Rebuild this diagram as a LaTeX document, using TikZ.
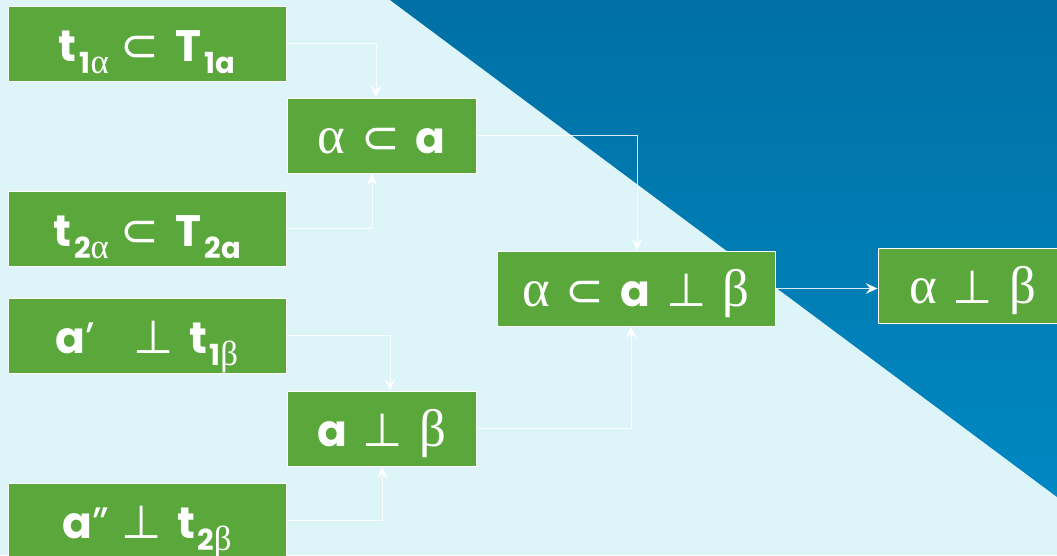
\documentclass[tikz,border=0pt]{standalone}
\usepackage{fontspec}
\setmainfont{Poppins}
\newfontfamily\grk{Liberation Serif}[Scale=1.2]
\newfontfamily\symf{DejaVu Sans}[Scale=1.05]
\usetikzlibrary{arrows.meta}
\definecolor{bgc}{HTML}{DDF4F9}
\definecolor{tritop}{HTML}{0070A4}
\definecolor{tribot}{HTML}{0088C2}
\definecolor{boxg}{HTML}{5AA83C}
\newcommand\mainsz{\fontsize{44}{48}\selectfont}
\newcommand\subsc[1]{\raisebox{-12pt}{\fontsize{29}{29}\selectfont\bfseries #1}}
\newcommand\ga{{\grk\mdseries α}}
\newcommand\gb{{\grk\mdseries β}}
\newcommand\lt{\textbf{t}}
\newcommand\lT{\textbf{T}}
\newcommand\la{\textbf{a}}
\newcommand\subs{{\symf ⊂}}
\newcommand\perpx{{\symf ⊥}}
\newcommand\gp{\hspace{16pt}}
\tikzset{
  gbox/.style={draw=white, line width=0.9pt, fill=boxg, text=white, inner sep=0pt,
    minimum height=75pt, font=\mainsz, text height=40pt, text depth=4pt},
  wide/.style={gbox, minimum width=278pt},
  narrow/.style={gbox, minimum width=189pt},
  conn/.style={draw=white, draw opacity=0.85, line width=0.8pt,
    -{Stealth[length=12pt,width=11pt,inset=4.5pt]}}
}
\begin{document}
\begin{tikzpicture}[x=1pt,y=-1pt]
\useasboundingbox (0,0) rectangle (1057,555);
\clip (0,0) rectangle (1057,555);
\fill[bgc] (0,0) rectangle (1057,555);
\shade[top color=tritop, bottom color=tribot] (390,0) -- (1057,0) -- (1057,497) -- cycle;

\node[wide]   (b1) at (147,43.5)  {\lt\hspace{3pt}\subsc{1\ga}\hspace{12pt}\subs\hspace{16pt}\lT\hspace{3pt}\subsc{1a}};
\node[narrow] (b2) at (381.5,135.5) {\ga\gp\subs\gp\la};
\node[wide]   (b3) at (147,228.5) {\lt\hspace{3pt}\subsc{2\ga}\hspace{12pt}\subs\hspace{16pt}\lT\hspace{3pt}\subsc{2a}};
\node[wide]   (b4) at (147,335.5) {\la’\hspace{38pt}\perpx\gp\lt\hspace{2pt}\subsc{1\gb}};
\node[narrow] (b5) at (381.5,428.5) {\la\gp\perpx\gp\gb};
\node[wide]   (b6) at (147,520.5) {\la”\hspace{12pt}\perpx\gp\lt\hspace{2pt}\subsc{2\gb}};
\node[wide]   (b7) at (636,288.5) {\ga\gp\subs\gp\la\gp\perpx\gp\gb};
\node[narrow] (b8) at (972.5,285.5) {\ga\gp\perpx\gp\gb};

\draw[conn] (b1.east) -| ([xshift=-5.5pt]b2.north);
\draw[conn] (b3.east) -| ([xshift=-9.5pt]b2.south);
\draw[conn] (b2.east) -| ([xshift=1pt]b7.north);
\draw[conn] (b4.east) -| ([xshift=8.5pt]b5.north);
\draw[conn] (b6.east) -| ([xshift=0.5pt]b5.south);
\draw[conn] (b5.east) -| ([xshift=-5pt]b7.south);
\draw[conn] (b7.east) -- (b8.west |- b7.east);
\end{tikzpicture}
\end{document}
